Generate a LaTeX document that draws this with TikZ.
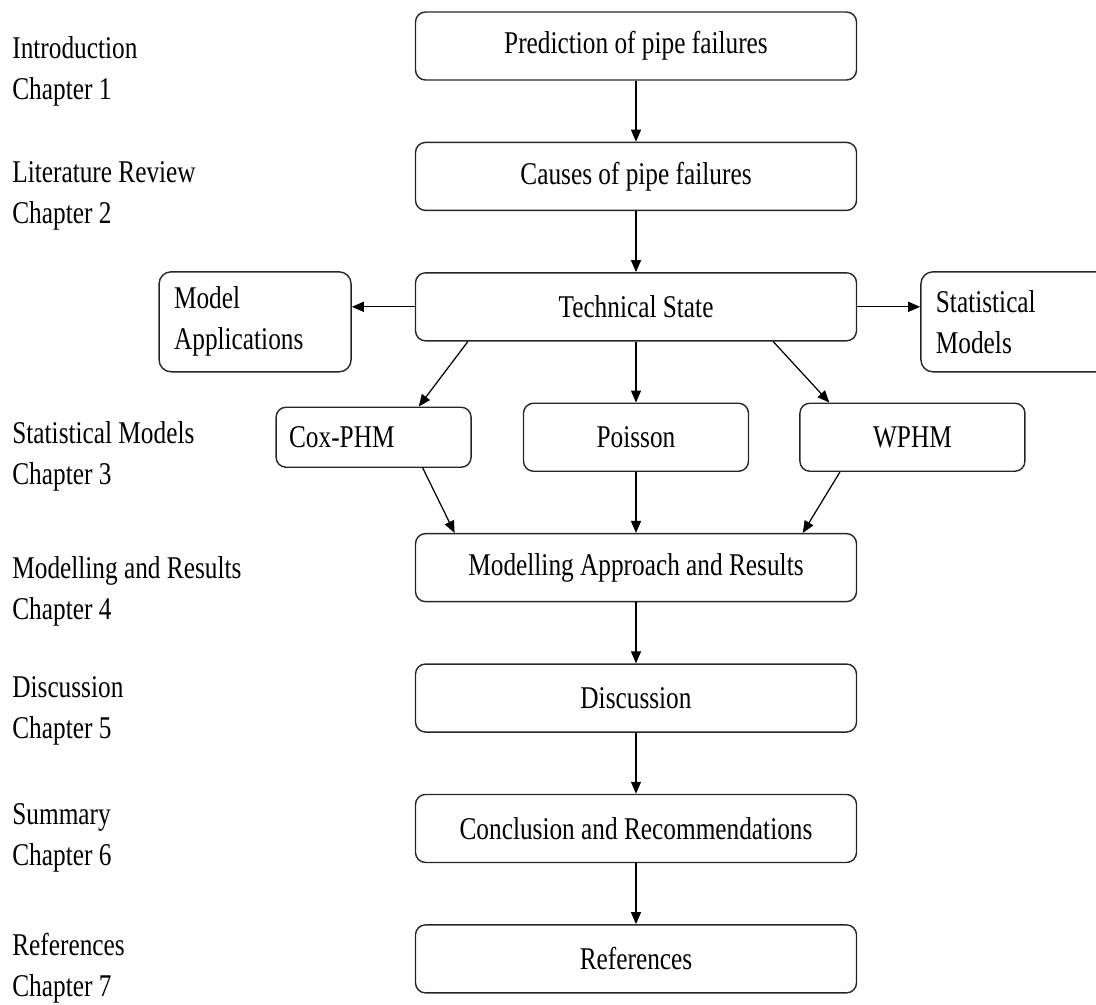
\documentclass[tikz,border=0pt]{standalone}
\usepackage{fontspec}
\setmainfont{Liberation Serif}[FakeStretch=0.8]
\usetikzlibrary{arrows.meta,positioning,calc}
\newcommand{\chapfont}{\fontsize{18}{23.3}\selectfont}
\tikzset{
  stagebox/.style={draw=black!85,line width=0.8pt,rounded corners=2mm,align=center,
    minimum width=88.2mm,minimum height=13.6mm,inner sep=0pt,font=\chapfont},
  sidebox/.style={draw=black!85,line width=0.8pt,rounded corners=2.4mm,align=left,
    text width=32.4mm,minimum height=20mm,inner xsep=3mm,inner ysep=0pt,font=\chapfont},
  modelbox/.style={draw=black!85,line width=0.8pt,rounded corners=2mm,align=center,
    minimum width=45mm,minimum height=13.6mm,inner sep=0pt,font=\chapfont},
  chapterlabel/.style={anchor=west,align=left,inner sep=0pt,font=\chapfont},
  flowarrow/.style={-{Triangle[length=2.4mm,width=2mm]},line width=0.7pt}
}

\begin{document}
\begin{tikzpicture}[x=0.2mm,y=-0.2mm,node distance=12.2mm and 12.6mm]
  \clip (0,0) rectangle (1096,1004);
  % main column
  \node[stagebox] (pred) at (636,46) {Prediction of pipe failures};
  \node[stagebox,below=of pred] (causes) {Causes of pipe failures};
  \node[stagebox,below=of causes] (tech) {Technical State};
  \node[sidebox,left=of tech,yshift=-3mm] (modapp) {Model\\Applications};
  \node[sidebox,right=of tech,yshift=-3mm] (statmod) {Statistical\\Models};
  \node[modelbox,below=of tech] (poisson) {Poisson};
  \node[modelbox,left=10.2mm of poisson,text width=33.8mm,align=left,minimum width=0pt,
    minimum height=12mm,inner xsep=2.6mm] (cox) {Cox-PHM};
  \node[modelbox,right=10mm of poisson] (wphm) {WPHM};
  \node[stagebox,below=of poisson] (modelling) {Modelling Approach and Results};
  \node[stagebox,below=of modelling] (disc) {Discussion};
  \node[stagebox,below=of disc] (concl) {Conclusion and Recommendations};
  \node[stagebox,below=of concl] (refs) {References};

  % chapter labels
  \node[chapterlabel] (ch1) at (12,71) {Introduction\\Chapter 1};
  \node[chapterlabel] (ch2) at (12,196) {Literature Review\\Chapter 2};
  \node[chapterlabel] (ch3) at (12,456) {Statistical Models\\Chapter 3};
  \node[chapterlabel] (ch4) at (12,591) {Modelling and Results\\Chapter 4};
  \node[chapterlabel] (ch5) at (12,711) {Discussion\\Chapter 5};
  \node[chapterlabel] (ch6) at (12,838) {Summary\\Chapter 6};
  \node[chapterlabel] (ch7) at (12,968) {References\\Chapter 7};

  \draw[flowarrow] (pred) -- (causes);
  \draw[flowarrow] (causes) -- (tech);
  \draw[flowarrow] (tech.west) -- (tech.west -| modapp.east);
  \draw[flowarrow] (tech.east) -- (tech.east -| statmod.west);
  \draw[flowarrow] ($(tech.south west)!0.12!(tech.south east)$) -- ($(cox.north west)!0.73!(cox.north east)$);
  \draw[flowarrow] (tech) -- (poisson);
  \draw[flowarrow] ($(tech.south west)!0.81!(tech.south east)$) -- ($(wphm.north west)!0.133!(wphm.north east)$);
  \draw[flowarrow] ($(cox.south west)!0.75!(cox.south east)$) -- ($(modelling.north west)!0.09!(modelling.north east)$);
  \draw[flowarrow] (poisson) -- (modelling);
  \draw[flowarrow] ($(wphm.south west)!0.18!(wphm.south east)$) -- ($(modelling.north west)!0.877!(modelling.north east)$);
  \draw[flowarrow] (modelling) -- (disc);
  \draw[flowarrow] (disc) -- (concl);
  \draw[flowarrow] (concl) -- (refs);
\end{tikzpicture}
\end{document}
